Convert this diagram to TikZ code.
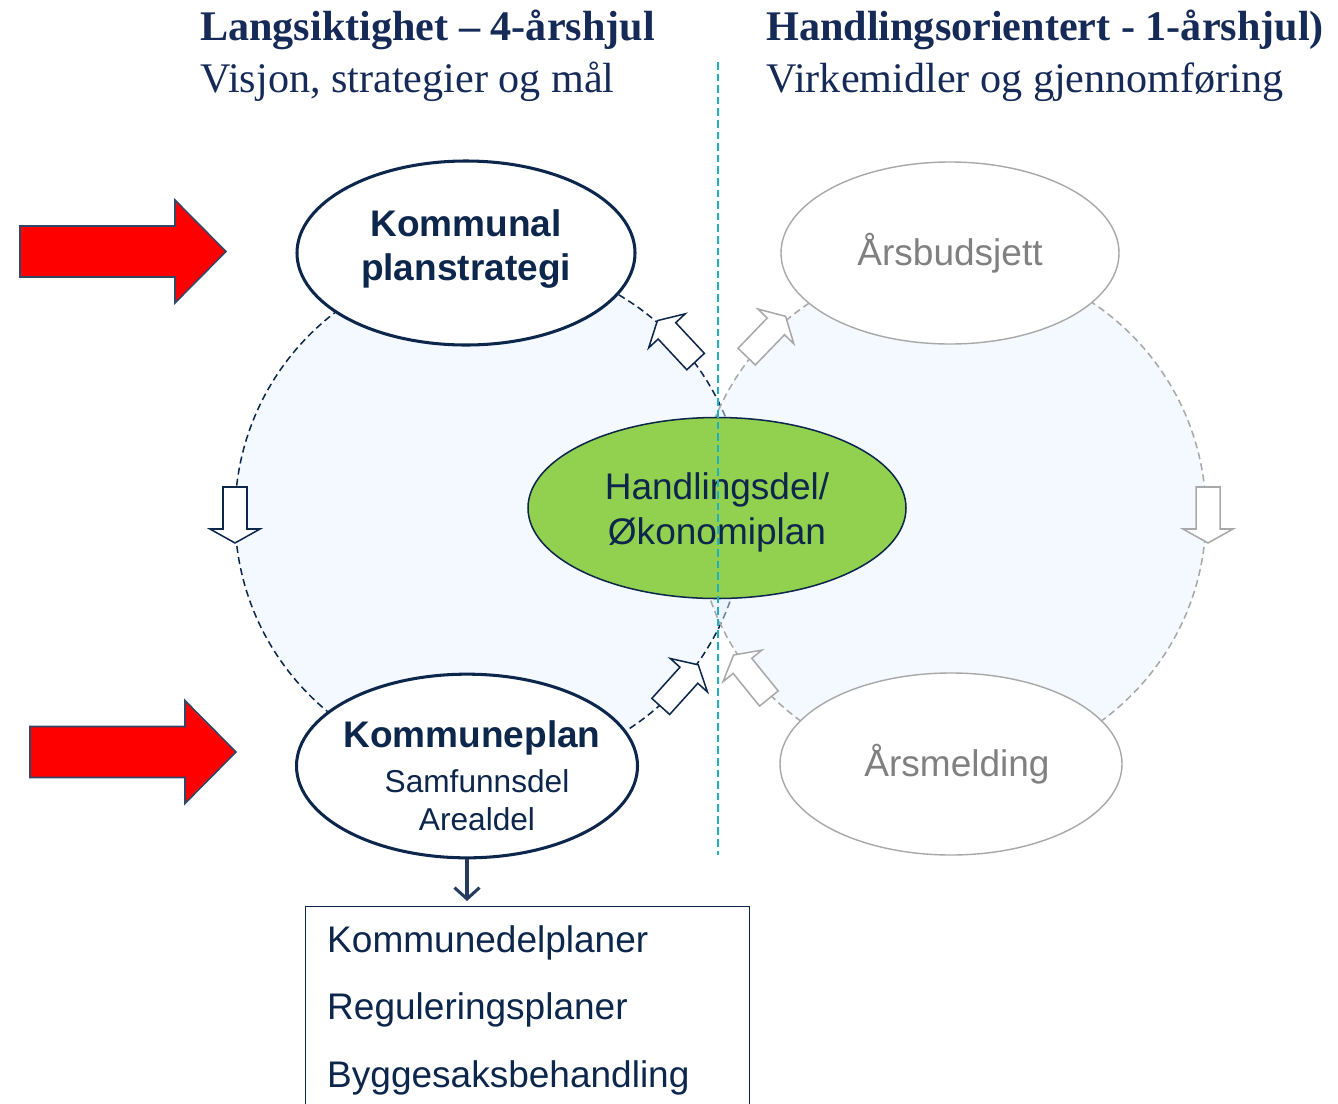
\documentclass[tikz,border=0pt]{standalone}
\usepackage{fontspec}
\setmainfont{Liberation Serif}
\setsansfont{Liberation Sans}
\usetikzlibrary{arrows.meta,shapes.geometric,calc}
\definecolor{navy}{RGB}{13,38,76}
\definecolor{headnavy}{RGB}{22,42,88}
\definecolor{leaf}{RGB}{146,208,80}
\definecolor{fog}{RGB}{168,168,168}
\definecolor{fogtext}{RGB}{128,128,128}
\definecolor{divider}{RGB}{30,175,192}
\definecolor{wash}{RGB}{228,241,252}
\definecolor{alarm}{RGB}{255,0,0}
\tikzset{
  >={Straight Barb[length=3.4mm,width=7.5mm]},
  plan/.style={ellipse,draw=navy,line width=2.6pt,fill=white,inner sep=0pt,align=center,
    text=navy,font=\sffamily\bfseries\fontsize{31.6}{37.5}\selectfont},
  result/.style={ellipse,draw=fog,line width=1.2pt,fill=white,inner sep=0pt,
    text=fogtext,font=\sffamily\fontsize{31.6}{37.5}\selectfont},
  wheel/.style={draw=#1,dash pattern=on 6pt off 3.6pt,line width=1.3pt,
    fill=wash,fill opacity=0.45,draw opacity=1},
  head/.style={text=headnavy,inner sep=0pt,font=\fontsize{36}{40}\selectfont},
  item/.style={text=navy,inner sep=0pt,font=\sffamily\fontsize{31.6}{37.5}\selectfont},
  % pictograms
  pics/turn/.style={code={
    \draw[#1,fill=white,line width=1.3pt,line join=miter]
      (-28,-12) -- (14,-12) -- (14,-25) -- (28,0) -- (14,25) -- (14,12) -- (-28,12) -- cycle;
  }},
  pics/turn/.default=navy,
  pics/push/.style={code={
    \draw[draw=navy!85,fill=alarm,line width=1.3pt,line join=miter]
      (0,-25.5) -- (155,-25.5) -- (155,-51.5) -- (206,0) -- (155,51.5) -- (155,25.5) -- (0,25.5) -- cycle;
  }},
}
\begin{document}
\begin{tikzpicture}[x=0.3mm,y=0.3mm]
  \useasboundingbox (0,0) rectangle (1338,-1103);
  \clip (0,0) rectangle (1338,-1103);
  % the two wheels
  \coordinate (lc) at (490,-515);
  \coordinate (rc) at (951,-515);
  \draw[wheel=navy] (lc) circle (255);
  \draw[wheel=fog] (rc) circle (255);
  \node[plan,minimum width=101.4mm,minimum height=55.2mm] (kps) at (466,-253)
    {Kommunal\\planstrategi\rule[-13pt]{0pt}{0pt}};
  \node[plan,minimum width=102.3mm,minimum height=54.6mm,inner xsep=-6mm,
    font=\sffamily\fontsize{27}{32.3}\selectfont] (kp) at (467,-766)
    {\rule{0pt}{40pt}\hspace*{3mm}{\bfseries\fontsize{31.6}{37.5}\selectfont Kommuneplan}\\[6pt]
     \hspace*{6mm}Samfunnsdel\\\hspace*{6mm}Arealdel};
  \node[result,minimum width=101.4mm,minimum height=54.6mm] (bud) at (950,-253) {Årsbudsjett};
  \node[result,minimum width=102.6mm,minimum height=54.6mm] (mel) at (951,-764) {\hspace*{3.6mm}Årsmelding};
  \foreach \a/\d in {180/270,43/133,-42/48}
    \path (lc) ++(\a:255) pic[rotate=\d] {turn=navy};
  \foreach \a/\d in {0/-90,136/46,219/129}
    \path (rc) ++(\a:257) pic[rotate=\d] {turn=fog};
  \node[plan,fill=leaf,line width=1.3pt,font=\sffamily\fontsize{31.6}{38.3}\selectfont,
    minimum width=113.4mm,minimum height=54.3mm] (okon) at (717,-508)
    {\rule{0pt}{30pt}Handlingsdel/\\Økonomiplan};
  \coordinate (divtop) at (718,-62);
  \coordinate (divbot) at (718,-855);
  \draw[divider,line width=1.6pt,dash pattern=on 6.5pt off 3.4pt] (divtop) -- (divbot);
  % inputs
  \pic at (20,-251.5) {push};
  \pic at (30,-752) {push};
  % follow-up plans
  \node[draw=navy,line width=1.2pt,anchor=north west,minimum width=133.2mm,minimum height=75mm] (tasks) at (305,-906) {};
  \draw[->,navy!90,line width=2.6pt,shorten >=1.5mm] (kp.south) -- (kp.south |- tasks.north);
  \foreach \t [count=\i from 0] in {Kommunedelplaner,Reguleringsplaner,Byggesaksbehandling}
    \node[item,anchor=base west] (item\i) at (327,{-952-67.5*\i}) {\t};
  % headings
  \node[head,anchor=base west] (lhead) at (200,-40) {\bfseries Langsiktighet – 4-årshjul};
  \node[head,anchor=base west] (lsub) at (200,-92) {Visjon, strategier og mål};
  \node[head,anchor=base west] (rhead) at (766,-40) {\bfseries Handlingsorientert - 1-årshjul)};
  \node[head,anchor=base west] (rsub) at (766,-92) {Virkemidler og gjennomføring};
\end{tikzpicture}
\end{document}
